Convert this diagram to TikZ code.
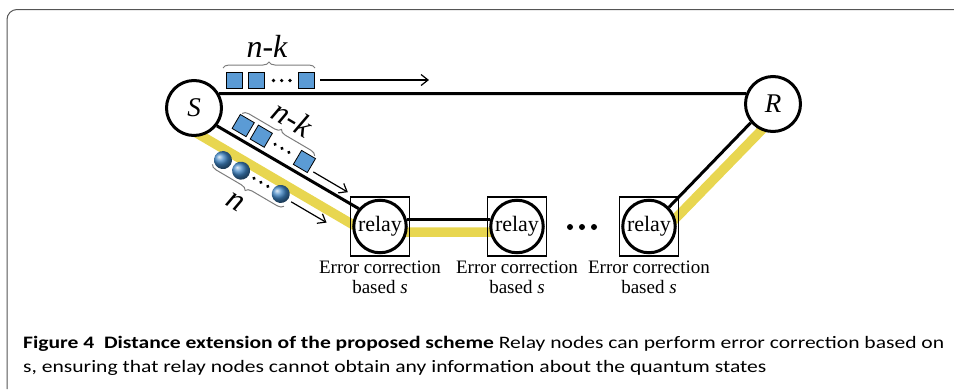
\documentclass[tikz,border=0pt]{standalone}
\usepackage{fontspec}
\setmainfont{Liberation Serif}
\newfontfamily\capfont{Carlito}
\usetikzlibrary{arrows.meta,decorations.pathreplacing,shadings}
\definecolor{hl}{RGB}{232,214,80}
\definecolor{sq}{RGB}{91,155,213}
\definecolor{ballc}{RGB}{62,132,196}
\definecolor{brc}{RGB}{125,125,125}
\definecolor{framec}{RGB}{85,85,85}
\definecolor{capc}{RGB}{35,35,35}
\pgfdeclarelayer{bg}
\pgfsetlayers{bg,main}
\newsavebox\capA
\newsavebox\capB
\newlength\capL
\tikzset{
 endnode/.style={circle,draw,line width=3pt,fill=white,minimum size=55pt,inner sep=0pt,font=\fontsize{27}{27}\selectfont\itshape},
 relaynode/.style={circle,draw,line width=3pt,fill=white,minimum size=52.5pt,inner sep=0pt,font=\fontsize{22}{22}\selectfont},
 relaybox/.style={draw,line width=1.3pt,minimum size=59pt,inner sep=0pt},
 link/.style={line width=3pt},
 hlpath/.style={hl,line width=9.5pt},
 qbit/.style={draw,line width=0.8pt,fill=sq,minimum size=16.2pt,inner sep=0pt},
 flow/.style={line width=1.2pt,-{Straight Barb[length=7pt,width=11pt]}},
 grp/.style={brc,line width=1pt,decorate,decoration={brace,amplitude=6pt}},
 lbl/.style={font=\fontsize{32}{32}\selectfont\itshape,inner sep=0pt},
 note/.style={font=\fontsize{19}{19}\selectfont,anchor=base,inner sep=0pt}
}
\begin{document}
\sbox\capA{\capfont\fontsize{17.5}{20}\selectfont\textbf{Figure 4\ \ Distance extension of the proposed scheme} Relay nodes can perform error correction based on}%
\sbox\capB{\capfont\fontsize{17.5}{20}\selectfont s, ensuring that relay nodes cannot obtain any information about the quantum states}%
\setlength\capL{\wd\capA}%
\pgfmathsetmacro\capsc{921/\capL}%
\begin{tikzpicture}[x=1pt,y=-1pt]
\useasboundingbox (0,0) rectangle (954,389);
% frame
\draw[framec,line width=1pt,rounded corners=10pt] (954,9.5) -- (7,9.5) -- (7,389);

% end nodes
\node[endnode] (S) at (194,108) {S};
\node[endnode] (R) at (773,104) {R};

% relay boxes and nodes
\node[relaybox] (b1) at (380,226.5) {};
\node[relaybox] (b2) at (517,226.5) {};
\node[relaybox] (b3) at (649,226.5) {};
\node[relaynode] (r1) at (380,226.5) {relay};
\node[relaynode] (r2) at (517,226.5) {relay};
\node[relaynode] (r3) at (649,226.5) {relay};

% dots between relays
\fill (570,227) circle[radius=3pt];
\fill (582,227) circle[radius=3pt];
\fill (594,227) circle[radius=3pt];

% notes
\node[note] (e1) at (380,273) {Error correction};
\node[note] (s1) at (380,293) {based \textit{s}};
\node[note] (e2) at (517,273) {Error correction};
\node[note] (s2) at (517,293) {based \textit{s}};
\node[note] (e3) at (649,273) {Error correction};
\node[note] (s3) at (649,293) {based \textit{s}};

% highlight and links
\coordinate (ya) at (188,128);
\coordinate (yb) at (365.4,232);
\coordinate (yc) at (517,232);
\coordinate (yd) at (664,230.3);
\coordinate (ye) at (767,124.5);
\begin{pgfonlayer}{bg}
\draw[hlpath] (ya) -- (yb) -- (yc);
\draw[hlpath] (yd) -- (ye);
\draw[link] (S.30) -- (R.159);
\draw[link] (S.-38) -- (r1.140);
\draw[link] (r1.14) -- (r2.166);
\draw[link] (r3.44) -- (R.220);
\end{pgfonlayer}

% top row of qubits
\node[qbit] (t1) at (234.5,80) {};
\node[qbit] (t2) at (256,80) {};
\node[qbit] (t3) at (306,80) {};
\fill (273.5,80.5) circle[radius=1.8pt];
\fill (281.7,80.5) circle[radius=1.8pt];
\fill (290,80.5) circle[radius=1.8pt];
\draw[grp] (223,68) -- (315,68);
\node[lbl] (tk) at (267,46) {n-k};
\coordinate (ta0) at (320,80);
\coordinate (ta1) at (429,80);
\draw[flow] (ta0) -- (ta1);

% diagonal
\begin{scope}[shift={(218,127)},rotate=-30.4]
\node[qbit,transform shape] (d1) at (21,-14) {};
\node[qbit,transform shape] (d2) at (42,-14) {};
\node[qbit,transform shape] (d3) at (92,-14) {};
\fill (58,-14) circle[radius=1.8pt];
\fill (66,-14) circle[radius=1.8pt];
\fill (74,-14) circle[radius=1.8pt];
\draw[grp] (14,-24) -- (98,-24);
\node[lbl,transform shape] (dk) at (60,-45) {n-k};
\coordinate (da0) at (105,-9.5);
\coordinate (da1) at (145,-9.5);
\draw[flow] (da0) -- (da1);
\shade[ball color=ballc] (21,26) circle[radius=9pt];
\shade[ball color=ballc] (42,26) circle[radius=9pt];
\shade[ball color=ballc] (88,26) circle[radius=9pt];
\fill (57,26) circle[radius=1.8pt];
\fill (65,26) circle[radius=1.8pt];
\fill (73,26) circle[radius=1.8pt];
\draw[grp] (97,35) -- (14,35);
\node[lbl,transform shape] (dn) at (53,56) {n};
\coordinate (db0) at (101,27.5);
\coordinate (db1) at (142,27.5);
\draw[flow] (db0) -- (db1);
\end{scope}

% caption
\node[anchor=base west,inner sep=0pt,text=capc] (c1) at (23,348) {\scalebox{\capsc}[1]{\usebox\capA}};
\node[anchor=base west,inner sep=0pt,text=capc] (c2) at (23,372) {\scalebox{\capsc}[1]{\usebox\capB}};
\end{tikzpicture}
\end{document}
